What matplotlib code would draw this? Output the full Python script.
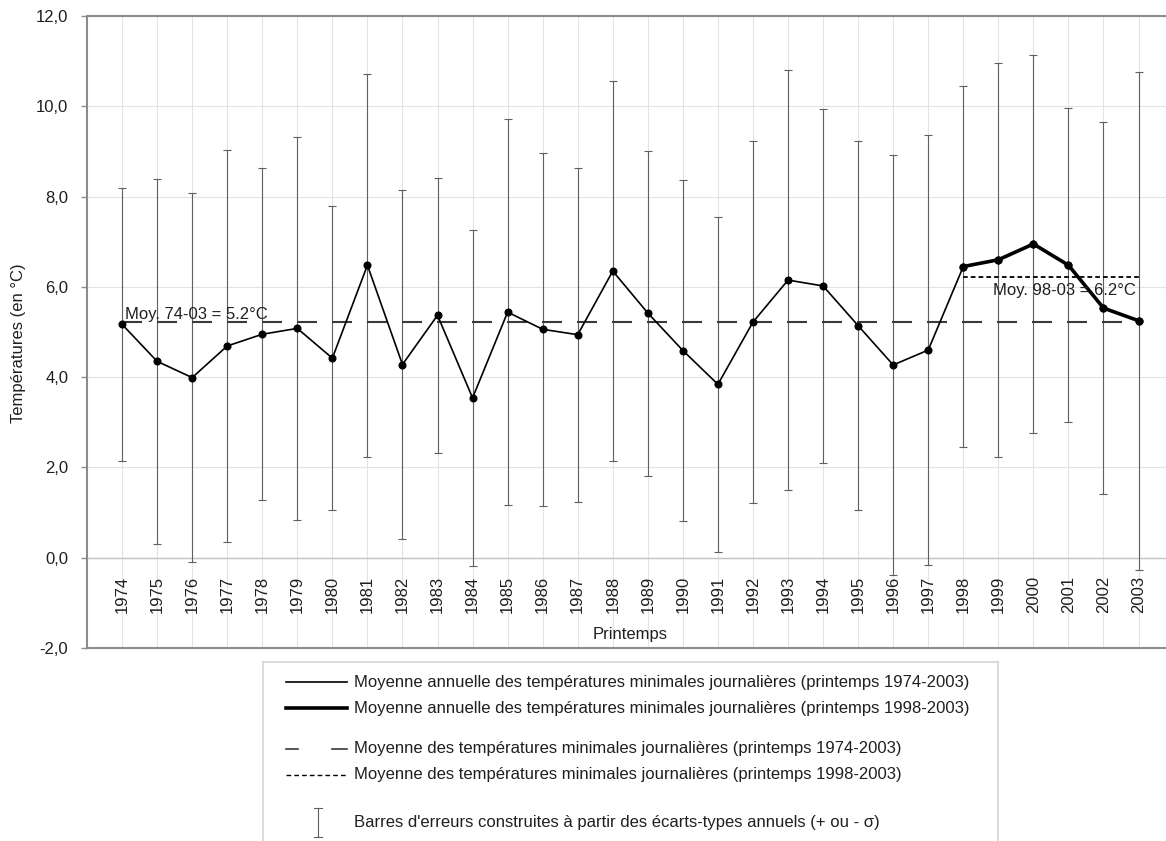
import matplotlib
matplotlib.use("Agg")
import matplotlib.pyplot as plt
from matplotlib.ticker import FuncFormatter
import numpy as np

plt.rcParams['font.family'] = ['Liberation Sans', 'DejaVu Sans']
plt.rcParams['lines.scale_dashes'] = False

years = [1974, 1975, 1976, 1977, 1978, 1979, 1980, 1981, 1982, 1983,
         1984, 1985, 1986, 1987, 1988, 1989, 1990, 1991, 1992, 1993,
         1994, 1995, 1996, 1997, 1998, 1999, 2000, 2001, 2002, 2003]
tmin_mean = [5.17, 4.35, 3.99, 4.69, 4.95, 5.08, 4.42, 6.48, 4.28, 5.37,
             3.54, 5.44, 5.06, 4.94, 6.35, 5.42, 4.59, 3.84, 5.22, 6.15,
             6.02, 5.14, 4.27, 4.60, 6.45, 6.60, 6.95, 6.48, 5.53, 5.25]
tmin_sigma = [3.03, 4.04, 4.08, 4.35, 3.68, 4.25, 3.37, 4.24, 3.86, 3.05,
              3.72, 4.28, 3.91, 3.70, 4.21, 3.60, 3.77, 3.71, 4.00, 4.66,
              3.92, 4.09, 4.66, 4.76, 4.00, 4.36, 4.19, 3.48, 4.12, 5.52]
recent_start = 1998

legend_labels = [
    "Moyenne annuelle des températures minimales journalières (printemps 1974-2003)",
    "Moyenne annuelle des températures minimales journalières (printemps 1998-2003)",
    "Moyenne des températures minimales journalières (printemps 1974-2003)",
    "Moyenne des températures minimales journalières (printemps 1998-2003)",
    "Barres d'erreurs construites à partir des écarts-types annuels (+ ou - σ)",
]

W, H = 1166, 841
TXT = '#1f1f1f'
FRAME = '#8c8c8c'
FS = 12


def main():
    yrs = np.array(years)
    mean = np.array(tmin_mean)
    sig = np.array(tmin_sigma)
    recent = yrs >= recent_start
    mean_all = mean.mean()
    mean_recent = mean[recent].mean()

    fig = plt.figure(figsize=(W / 100, H / 100), dpi=100)
    ax = fig.add_axes([87 / W, (H - 648) / H, (1173.6 - 87) / W, (648 - 16) / H])

    # grid
    ax.set_xlim(1973, 2004)
    ax.set_ylim(-2, 12)
    ax.set_yticks(np.arange(-2, 12.1, 2))
    ax.set_xticks(yrs)
    ax.grid(True, color='#e3e3e3', lw=0.8)
    ax.set_axisbelow(True)
    ax.axhline(0, color='#c4c4c4', lw=1.0, zorder=1)

    # error bars
    ax.errorbar(yrs, mean, yerr=sig, fmt='none', ecolor='#5f5f5f',
                elinewidth=0.8, capsize=3.2, capthick=0.8, zorder=2)

    # means
    ax.plot([yrs[0], yrs[-1]], [mean_all, mean_all], color='#3a3a3a',
            lw=1.5, dashes=(14.4, 10.8), zorder=3)
    ax.plot([yrs[recent][0], yrs[-1]], [mean_recent, mean_recent],
            color='black', lw=1.3, dashes=(3.4, 2.2), zorder=3)

    # series
    ax.plot(yrs, mean, color='black', lw=1.2, marker='o', ms=4.8, zorder=4)
    ax.plot(yrs[recent], mean[recent], color='black', lw=2.6, marker='o',
            ms=4.8, zorder=5)

    ax.annotate("Moy. 74-03 = 5.2°C", xy=(yrs[0], mean_all), xytext=(2.4, 2.5),
                textcoords='offset points', ha='left', va='baseline',
                fontsize=FS, color=TXT, zorder=6)
    ax.annotate("Moy. 98-03 = 6.2°C", xy=(yrs[-1], mean_recent), xytext=(-2, -13),
                textcoords='offset points', ha='right', va='baseline',
                fontsize=FS, color=TXT, zorder=6)

    # year labels sit under the zero line
    ax.tick_params(axis='x', length=0, labelbottom=False)
    for yr in yrs:
        ax.annotate(str(yr), xy=(yr, 0), xytext=(0, -13), textcoords='offset points',
                    rotation=90, ha='center', va='top', fontsize=FS, color=TXT)
    ax.text(0.5, 0.022, "Printemps", transform=ax.transAxes, ha='center',
            va='center', fontsize=FS, color=TXT)

    ax.yaxis.set_major_formatter(FuncFormatter(lambda v, p: f"{v:.1f}".replace('.', ',')))
    ax.tick_params(axis='y', length=4, width=1, color=FRAME, pad=9.5,
                   labelsize=FS, labelcolor=TXT)
    ax.set_ylabel("Températures (en °C)", fontsize=FS, color=TXT)
    ax.yaxis.set_label_coords(-0.056, 0.483)

    for s in ['left', 'bottom', 'top']:
        ax.spines[s].set_color(FRAME)
        ax.spines[s].set_linewidth(1.5)
    ax.spines['right'].set_visible(False)

    # legend box (open at the bottom, cropped)
    lax = fig.add_axes([263 / W, 0, (998 - 263) / W, (H - 662) / H])
    lax.set_xlim(0, 735)
    lax.set_ylim(179, 0)
    lax.set_xticks([])
    lax.set_yticks([])
    for s in ['left', 'top', 'right']:
        lax.spines[s].set_color('#d4d4d4')
        lax.spines[s].set_linewidth(1.2)
    lax.spines['bottom'].set_visible(False)

    rows = [20, 46, 87, 113, 161]
    lax.plot([23, 84], [rows[0]] * 2, color='black', lw=1.2)
    lax.plot([23, 84], [rows[1]] * 2, color='black', lw=2.6)
    lax.plot([23, 35], [rows[2]] * 2, color='#3a3a3a', lw=1.2)
    lax.plot([69, 84], [rows[2]] * 2, color='#3a3a3a', lw=1.2)
    lax.plot([23, 84], [rows[3]] * 2, color='black', lw=1.0, dashes=(3.4, 2.2))
    lax.plot([55, 55], [146, 175], color='#5f5f5f', lw=0.8)
    lax.plot([51, 59], [146, 146], color='#5f5f5f', lw=0.8)
    lax.plot([51, 59], [175, 175], color='#5f5f5f', lw=0.8)
    for r, lab in zip(rows, legend_labels):
        lax.text(91, r, lab, ha='left', va='center', fontsize=FS, color=TXT)

    fig.savefig("out.png", dpi=100)


if __name__ == "__main__":
    main()
